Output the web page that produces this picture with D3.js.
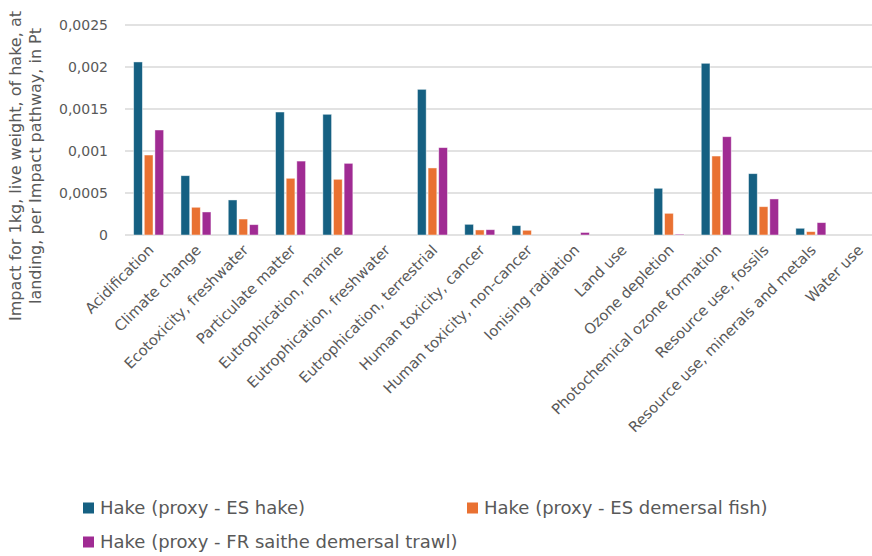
<!DOCTYPE html>
<html>
<head>
<meta charset="utf-8">
<script src="https://cdn.jsdelivr.net/npm/d3@7/dist/d3.min.js"></script>
<style>
  html, body { margin: 0; padding: 0; background: #fff; }
  svg { display: block; font-family: "DejaVu Sans", sans-serif; }
</style>
</head>
<body>
<svg id="chart" width="872" height="556"></svg>
<script>
// Impact categories (x axis)
const categories = [
  "Acidification",
  "Climate change",
  "Ecotoxicity, freshwater",
  "Particulate matter",
  "Eutrophication, marine",
  "Eutrophication, freshwater",
  "Eutrophication, terrestrial",
  "Human toxicity, cancer",
  "Human toxicity, non-cancer",
  "Ionising radiation",
  "Land use",
  "Ozone depletion",
  "Photochemical ozone formation",
  "Resource use, fossils",
  "Resource use, minerals and metals",
  "Water use"
];

// Series names
const seriesNames = [
  "Hake (proxy - ES hake)",
  "Hake (proxy - ES demersal fish)",
  "Hake (proxy - FR saithe demersal trawl)"
];

// Values in Pt, one array per series
const esHake = [0.00206, 0.000706, 0.000417, 0.001464, 0.001437, 0, 0.001734, 0.000127, 0.000111, 0, 0, 0.000556, 0.002044, 0.00073, 0.00008, 0];
const esDemersal = [0.000952, 0.00033, 0.00019, 0.000675, 0.000663, 0, 0.000798, 0.00006, 0.000056, 0, 0, 0.000258, 0.00094, 0.000337, 0.00004, 0];
const frSaithe = [0.00125, 0.000274, 0.000123, 0.00088, 0.000853, 0, 0.00104, 0.000063, 0, 0.00003, 0, 0.00001, 0.00117, 0.000429, 0.000147, 0];

// Y axis ticks
const yTicks = [0, 0.0005, 0.001, 0.0015, 0.002, 0.0025];
const yTickLabels = ["0", "0,0005", "0,001", "0,0015", "0,002", "0,0025"];

const colors = ["#156082", "#E97132", "#A02B93"];
const seriesValues = [esHake, esDemersal, frSaithe];

const svg = d3.select("#chart");

const plot = { left: 125, top: 25, bottom: 235, step: 47.3 };

const y = d3.scaleLinear().domain([0, 0.0025]).range([plot.bottom, plot.top]);
const x = d3.scaleBand()
  .domain(categories)
  .range([plot.left, plot.left + plot.step * categories.length])
  .padding(0);

const groupWidth = 30;
const xs = d3.scaleBand()
  .domain(d3.range(seriesNames.length))
  .range([0, groupWidth])
  .paddingInner(0.18);

// Gridlines
svg.append("g")
  .selectAll("line")
  .data(yTicks)
  .join("line")
  .attr("x1", plot.left)
  .attr("x2", x.range()[1])
  .attr("y1", d => y(d))
  .attr("y2", d => y(d))
  .attr("stroke", "#d9d9d9")
  .attr("stroke-width", 1.3);

// Y tick labels
svg.append("g")
  .selectAll("text")
  .data(yTicks)
  .join("text")
  .attr("x", 108)
  .attr("y", d => y(d))
  .attr("dy", "0.35em")
  .attr("text-anchor", "end")
  .attr("font-size", 14)
  .attr("fill", "#595959")
  .text((d, i) => yTickLabels[i]);

// Bars
const groups = svg.append("g")
  .selectAll("g")
  .data(categories)
  .join("g")
  .attr("transform", d => `translate(${x(d) + (x.bandwidth() - groupWidth) / 2},0)`);

groups.selectAll("rect")
  .data((d, ci) => seriesValues.map((vals, si) => ({ si, v: vals[ci] })))
  .join("rect")
  .filter(d => d.v > 0)
  .attr("x", d => xs(d.si))
  .attr("width", xs.bandwidth())
  .attr("y", d => y(d.v))
  .attr("height", d => y(0) - y(d.v))
  .attr("fill", d => colors[d.si])
  .attr("stroke", "#ffffff")
  .attr("stroke-opacity", 0.55)
  .attr("stroke-width", 0.8);

// Category labels, rotated
svg.append("g")
  .selectAll("text")
  .data(categories)
  .join("text")
  .attr("transform", d => `translate(${x(d) + x.bandwidth() / 2 + 6},${plot.bottom + 16}) rotate(-45)`)
  .attr("text-anchor", "end")
  .attr("font-size", 14.7)
  .attr("fill", "#595959")
  .text(d => d);

// Y axis title
const yTitle = svg.append("text")
  .attr("transform", "translate(0,166) rotate(-90)")
  .attr("text-anchor", "middle")
  .attr("font-size", 16)
  .attr("fill", "#595959");
yTitle.append("tspan").attr("x", 0).attr("y", 21).text("Impact for 1kg, live weight, of hake, at");
yTitle.append("tspan").attr("x", 0).attr("y", 41).text("landing, per Impact pathway, in Pt");

// Legend
const legendPos = [
  { x: 83, y: 508 },
  { x: 467, y: 508 },
  { x: 83, y: 542 }
];
const legend = svg.append("g")
  .selectAll("g")
  .data(seriesNames)
  .join("g")
  .attr("transform", (d, i) => `translate(${legendPos[i].x},${legendPos[i].y})`);
legend.append("rect")
  .attr("x", 0).attr("y", -5.5)
  .attr("width", 11).attr("height", 11)
  .attr("fill", (d, i) => colors[i]);
legend.append("text")
  .attr("x", 17)
  .attr("dy", "0.36em")
  .attr("font-size", 18)
  .attr("fill", "#595959")
  .text(d => d);
</script>
</body>
</html>
